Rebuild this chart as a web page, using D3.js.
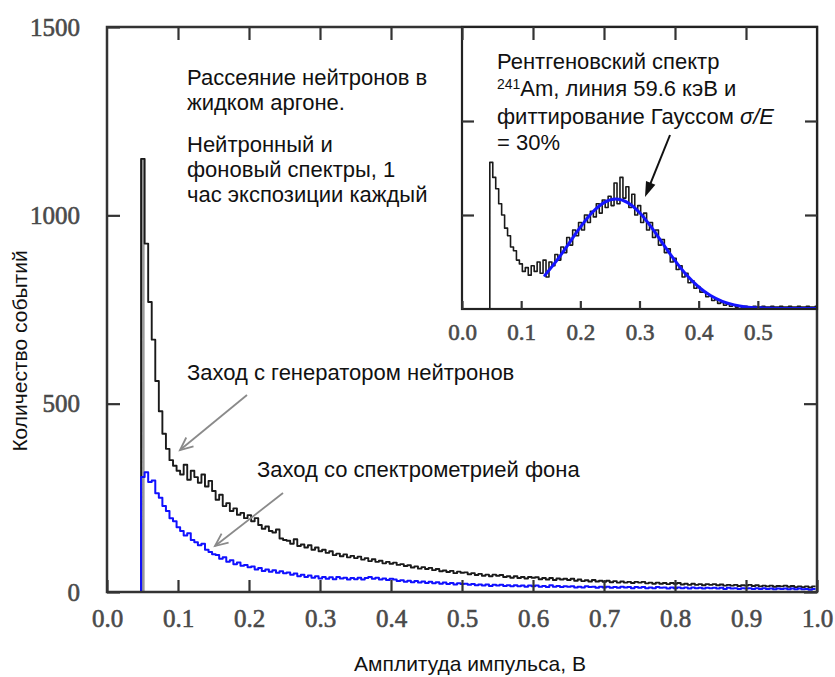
<!DOCTYPE html>
<html>
<head>
<meta charset="utf-8">
<script src="https://cdn.jsdelivr.net/npm/d3@7"></script>
<style>
  html, body { margin: 0; padding: 0; background: #fff; }
  svg { display: block; }
</style>
</head>
<body>
<svg id="chart" width="835" height="677"></svg>
<script>
// ---- Spectra: counts per 0.005 V bin, first bin starts at 0.048 V ----
const binStart = 0.048;
const binWidth = 0.005;

// Run with the neutron generator (black)
const neutronCounts = [
  1150, 925, 770, 670, 560, 480, 420, 380, 350, 335, 322,
  312, 338, 298, 322, 305, 290, 312, 280, 295, 268,
  245, 258, 228, 236, 215, 222, 205, 210, 196, 204,
  188, 196, 178, 168, 174, 162, 158, 166, 142, 138,
  136, 128, 140, 122, 126, 118, 124, 112, 118, 108,
  112, 104, 108, 98, 102, 95, 100, 92, 96, 90,
  94, 86, 90, 82, 87, 80, 83, 76, 80, 75,
  78, 72, 74, 69, 71, 65, 68, 62, 66, 61,
  64, 58, 61, 55, 57, 53, 56, 50, 54, 51,
  52, 47, 50, 45, 48, 43, 46, 42, 46, 43,
  45, 40, 42, 38, 42, 37, 40, 36, 40, 38,
  39, 34, 37, 33, 37, 32, 36, 33, 35, 32,
  35, 30, 33, 29, 31, 28, 32, 28, 30, 27,
  30, 26, 29, 25, 28, 25, 27, 24, 27, 25,
  27, 23, 25, 22, 25, 22, 24, 21, 24, 22,
  24, 20, 22, 19, 22, 19, 21, 18, 21, 19,
  21, 18, 20, 17, 19, 17, 19, 16, 18, 17,
  19, 16, 18, 15, 17, 15, 17, 14, 16, 15,
  17, 14, 16, 13, 15, 13, 15, 12, 15
];

// Background spectrometry run (blue)
const backgroundCounts = [
  305, 318, 292, 296, 262, 250, 228, 215, 196, 188, 172,
  162, 150, 156, 138, 132, 124, 128, 112, 106, 100,
  98, 88, 92, 80, 84, 74, 78, 70, 72, 66,
  68, 60, 64, 56, 60, 54, 58, 51, 55, 50,
  52, 46, 49, 42, 46, 40, 44, 38, 42, 36,
  40, 35, 39, 34, 40, 36, 38, 33, 37, 34,
  38, 33, 37, 40, 35, 38, 33, 36, 32, 35,
  33, 29, 31, 27, 30, 26, 29, 25, 28, 24,
  27, 23, 26, 22, 25, 21, 24, 20, 23, 21,
  22, 19, 21, 18, 20, 17, 20, 16, 19, 17,
  19, 16, 18, 15, 18, 15, 17, 14, 17, 15,
  17, 14, 16, 13, 18, 14, 16, 13, 15, 14,
  15, 12, 14, 12, 15, 13, 14, 11, 14, 12,
  14, 11, 13, 11, 14, 12, 13, 10, 13, 11,
  13, 10, 12, 10, 13, 11, 12, 9, 12, 10,
  12, 10, 12, 9, 12, 10, 11, 9, 11, 10,
  11, 9, 11, 8, 11, 9, 10, 8, 10, 9,
  10, 8, 10, 8, 10, 8, 9, 7, 9, 8,
  9, 7, 9, 7, 9, 7, 8, 6, 8
];

// ---- Inset: 241Am X-ray spectrum (0.005 V bins from 0.047 V) and Gaussian fit ----
const amBinStart = 0.047;
const amCounts = [
  156, 140, 128, 112, 100, 86, 78, 66, 62, 52,
  48, 40, 44, 36, 46, 40, 50, 38, 52, 34,
  50, 46, 58, 52, 66, 60, 76, 68, 84, 78,
  92, 84, 100, 92, 104, 98, 112, 102, 116, 108,
  120, 110, 134, 112, 140, 118, 130, 108, 122, 100,
  110, 92, 102, 84, 92, 76, 84, 68, 74, 60,
  64, 50, 54, 42, 46, 34, 38, 28, 30, 22,
  24, 18, 18, 13, 14, 9, 10, 6, 7, 4,
  5, 3, 4, 2, 3, 2, 3, 2, 2, 3,
  2, 2, 3, 2, 2, 3, 2, 2, 3, 2,
  2, 3, 2, 2, 3, 2, 2, 3, 2, 2,
  3
];
const fitX = [0.14, 0.16, 0.18, 0.20, 0.22, 0.24, 0.26, 0.28, 0.30, 0.32, 0.34, 0.36,
              0.38, 0.40, 0.42, 0.44, 0.46, 0.48, 0.50, 0.52, 0.54, 0.56, 0.58, 0.60];
const fitY = [35.8, 51.4, 69.1, 87.0, 102.6, 113.2, 117, 113.2, 102.6, 87.0, 69.1, 51.4,
              35.8, 23.4, 14.3, 8.2, 4.4, 2.2, 1.2, 0.8, 0.6, 0.5, 0.5, 0.5];

// ---- Axis ticks ----
const xTicks = [0, 0.1, 0.2, 0.3, 0.4, 0.5, 0.6, 0.7, 0.8, 0.9, 1.0];
const yTicks = [0, 500, 1000, 1500];
const insetXTicks = [0, 0.1, 0.2, 0.3, 0.4, 0.5];
const insetYTicks = [100, 200];

const svg = d3.select("#chart");
svg.append("rect").attr("width", 835).attr("height", 677).attr("fill", "#fff");

const sansFont = "Liberation Sans";
const serifFont = "Liberation Serif";

// Main plot scales
const plot = { left: 107, right: 817, top: 27, bottom: 592 };
const x = d3.scaleLinear().domain([0, 1]).range([plot.left, plot.right]);
const y = d3.scaleLinear().domain([0, 1500]).range([plot.bottom, plot.top]);

const stepLine = (xs, ys) => d3.line().x(d => xs(d[0])).y(d => ys(d[1])).curve(d3.curveStepAfter);

function binsToPoints(start, width, counts, lead) {
  const pts = lead.slice();
  counts.forEach((c, i) => pts.push([start + i * width, c]));
  const last = counts[counts.length - 1];
  pts.push([start + counts.length * width, last]);
  return pts;
}

const neutronPts = binsToPoints(binStart, binWidth, neutronCounts, [[binStart, 0]]);
const backgroundPts = binsToPoints(binStart, binWidth, backgroundCounts, [[0, 0]]);

svg.append("clipPath").attr("id", "clipMain")
  .append("rect").attr("x", plot.left).attr("y", plot.top)
  .attr("width", plot.right - plot.left).attr("height", plot.bottom - plot.top);

const curves = svg.append("g").attr("clip-path", "url(#clipMain)");

// dense first bin of the neutron run
curves.append("path")
  .attr("d", d3.area().x(d => x(d[0])).y0(y(0)).y1(d => y(d[1])).curve(d3.curveStepAfter)(
    [[binStart, neutronCounts[0]], [binStart + binWidth, neutronCounts[0]]]))
  .attr("fill", "#9a9a9a");

curves.append("path")
  .attr("d", stepLine(x, y)(neutronPts))
  .attr("fill", "none").attr("stroke", "#1a1a1a").attr("stroke-width", 1.9)
  .attr("stroke-linejoin", "round");

curves.append("path")
  .attr("d", stepLine(x, y)(backgroundPts))
  .attr("fill", "none").attr("stroke", "#1010ff").attr("stroke-width", 2)
  .attr("stroke-linejoin", "round");

// Main frame and ticks
const axisColor = "#333";
svg.append("rect")
  .attr("x", plot.left).attr("y", plot.top)
  .attr("width", plot.right - plot.left).attr("height", plot.bottom - plot.top)
  .attr("fill", "none").attr("stroke", axisColor).attr("stroke-width", 2.5);

const xAxisBottom = d3.axisBottom(x).tickValues(xTicks).tickSize(-12).tickPadding(32)
  .tickFormat(d3.format(".1f"));
const xAxisTop = d3.axisTop(x).tickValues(xTicks).tickSize(-13).tickFormat("");
const yAxisLeft = d3.axisLeft(y).tickValues(yTicks).tickSize(-13).tickPadding(27)
  .tickFormat(d3.format("d"));
const yAxisRight = d3.axisRight(y).tickValues(yTicks).tickSize(-13).tickFormat("");

function styleAxis(g, size) {
  g.attr("font-family", serifFont).attr("font-size", size);
  g.select(".domain").remove();
  g.selectAll(".tick line").attr("stroke", axisColor).attr("stroke-width", 2.2);
  g.selectAll(".tick text")
    .attr("font-family", serifFont).attr("font-size", size)
    .attr("fill", "#4a4a4a").attr("stroke", "#4a4a4a").attr("stroke-width", 0.6);
}

// Inset frame geometry
const inset = { left: 462, right: 817, top: 27, bottom: 309 };
const ix = d3.scaleLinear().domain([0, 0.6]).range([inset.left, inset.right]);
const iy = d3.scaleLinear().domain([0, 300]).range([inset.bottom, inset.top]);

svg.append("g").attr("transform", `translate(0,${plot.bottom})`).call(xAxisBottom)
  .call(g => styleAxis(g, 25))
  .call(g => g.selectAll(".tick text").attr("dy", "0.1em"));
svg.append("g").attr("transform", `translate(${plot.left},0)`).call(yAxisLeft)
  .call(g => styleAxis(g, 25));
svg.append("g").attr("transform", `translate(${plot.right},0)`).call(yAxisRight)
  .call(g => styleAxis(g, 25));

// ---- Inset panel ----
const insetG = svg.append("g");
insetG.append("rect")
  .attr("x", inset.left).attr("y", inset.top)
  .attr("width", inset.right - inset.left).attr("height", inset.bottom - inset.top)
  .attr("fill", "#fff");

svg.append("clipPath").attr("id", "clipInset")
  .append("rect").attr("x", inset.left).attr("y", inset.top)
  .attr("width", inset.right - inset.left).attr("height", inset.bottom - inset.top);

const insetCurves = insetG.append("g").attr("clip-path", "url(#clipInset)");
const amPts = binsToPoints(amBinStart, binWidth, amCounts, [[amBinStart, 0]]);
insetCurves.append("path")
  .attr("d", stepLine(ix, iy)(amPts))
  .attr("fill", "none").attr("stroke", "#1a1a1a").attr("stroke-width", 1.6)
  .attr("stroke-linejoin", "round");

const fitPts = fitX.map((v, i) => [v, fitY[i]]);
insetCurves.append("path")
  .attr("d", d3.line().x(d => ix(d[0])).y(d => iy(d[1])).curve(d3.curveMonotoneX)(fitPts))
  .attr("fill", "none").attr("stroke", "#1414ff").attr("stroke-width", 3)
  .attr("stroke-linecap", "round");

insetG.append("rect")
  .attr("x", inset.left).attr("y", inset.top)
  .attr("width", inset.right - inset.left).attr("height", inset.bottom - inset.top)
  .attr("fill", "none").attr("stroke", "#222").attr("stroke-width", 2.2);

insetG.append("g").attr("transform", `translate(0,${inset.bottom})`)
  .call(d3.axisBottom(ix).tickValues(insetXTicks).tickSize(-8).tickPadding(29)
    .tickFormat(d3.format(".1f")))
  .call(g => styleAxis(g, 23))
  .call(g => g.selectAll(".tick text").attr("dy", "0.1em"));
insetG.append("g").attr("transform", `translate(${inset.left},0)`)
  .call(d3.axisLeft(iy).tickValues(insetYTicks).tickSize(-12).tickFormat(""))
  .call(g => styleAxis(g, 23));
insetG.append("g").attr("transform", `translate(${inset.right},0)`)
  .call(d3.axisRight(iy).tickValues(insetYTicks).tickSize(-12).tickFormat(""))
  .call(g => styleAxis(g, 23));

// top ticks of the main frame run over the inset edge
svg.append("g").attr("transform", `translate(0,${plot.top})`).call(xAxisTop)
  .call(g => styleAxis(g, 25))
  .call(g => g.selectAll(".tick").filter(d => d === 0 || d === 1).remove());

// ---- Axis titles ----
svg.append("text")
  .attr("x", 470).attr("y", 671).attr("text-anchor", "middle")
  .attr("font-family", sansFont).attr("font-size", 21).attr("fill", "#111")
  .text("Амплитуда импульса, В");

svg.append("text")
  .attr("transform", "translate(27,351) rotate(-90)").attr("text-anchor", "middle")
  .attr("font-family", sansFont).attr("font-size", 21).attr("fill", "#111")
  .text("Количество событий");

// ---- Annotations ----
const note = (xp, yp, str) => svg.append("text")
  .attr("x", xp).attr("y", yp)
  .attr("font-family", sansFont).attr("font-size", 22).attr("fill", "#111")
  .text(str);

note(187, 85, "Рассеяние нейтронов в");
note(187, 110, "жидком аргоне.");
note(187, 152, "Нейтронный и");
note(187, 177, "фоновый спектры, 1");
note(187, 202, "час экспозиции каждый");

note(497, 69, "Рентгеновский спектр");
const amLine = note(497, 96, "");
amLine.append("tspan").attr("font-size", 14).attr("dy", -7).text("241");
amLine.append("tspan").attr("dy", 7).text("Am,  линия 59.6 кэВ и");
const fitLine = note(497, 124, "фиттирование Гауссом ");
fitLine.append("tspan").attr("font-style", "italic").text("σ/E");
note(497, 150, "= 30%");

note(187, 380, "Заход  с генератором нейтронов");
note(257, 477, "Заход  со спектрометрией фона");

// Arrows
function arrow(x1, y1, x2, y2, color, filled) {
  const ang = Math.atan2(y2 - y1, x2 - x1);
  const len = filled ? 16 : 14, spread = filled ? 0.32 : 0.42;
  const a1 = [x2 - len * Math.cos(ang - spread), y2 - len * Math.sin(ang - spread)];
  const a2 = [x2 - len * Math.cos(ang + spread), y2 - len * Math.sin(ang + spread)];
  const g = svg.append("g");
  g.append("line").attr("x1", x1).attr("y1", y1)
    .attr("x2", filled ? x2 - 8 * Math.cos(ang) : x2).attr("y2", filled ? y2 - 8 * Math.sin(ang) : y2)
    .attr("stroke", color).attr("stroke-width", filled ? 2 : 1.8);
  if (filled) {
    g.append("path").attr("d", `M${x2},${y2}L${a1[0]},${a1[1]}L${a2[0]},${a2[1]}Z`).attr("fill", color);
  } else {
    g.append("path").attr("d", `M${a1[0]},${a1[1]}L${x2},${y2}L${a2[0]},${a2[1]}`)
      .attr("fill", "none").attr("stroke", color).attr("stroke-width", 1.8);
  }
}
arrow(247, 395, 180, 450, "#8a8a8a", false);
arrow(283, 493, 215, 546, "#8a8a8a", false);
arrow(670, 135, 645, 197, "#111", true);
</script>
</body>
</html>
